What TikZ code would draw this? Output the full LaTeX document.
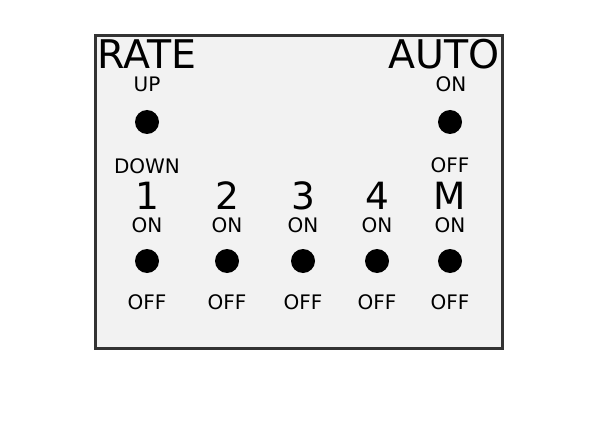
\documentclass[tikz,border=0pt]{standalone}
\usepackage{fontspec}
\setmainfont{DejaVu Sans}
\usepackage{tikz}
\usetikzlibrary{positioning}
\definecolor{panelfill}{HTML}{F2F2F2}
\definecolor{paneledge}{HTML}{333333}
\tikzset{%
  every switch/.style={
    circle,
    fill=black,
    inner sep=0pt,
    minimum size=24pt
  },
  big label/.style={
    inner sep=0pt,
    anchor=base,
    font=\fontsize{39.5}{40}\selectfont
  },
  digit label/.style={
    inner sep=0pt,
    anchor=base,
    font=\fontsize{37.5}{40}\selectfont
  },
  small label/.style={
    inner sep=0pt,
    anchor=base,
    font=\fontsize{20}{22}\selectfont
  },
}
\begin{document}
\begin{tikzpicture}[x=1pt, y=-1pt]

\useasboundingbox (0,0) rectangle (612,422);
\draw [fill=panelfill, draw=paneledge, line width=3.5pt] (95.5,35.5) rectangle (502.5,348.5);

% top row: rate and auto
\node [big label, anchor=base west] (rate) at (97,69) {RATE};
\node [big label, anchor=base east] (auto) at (500,69) {AUTO};

\node [small label] (rate-up) at (147,92) {UP};
\node [every switch/.try] (rate-sw) at (147,122) {};
\node [small label] (rate-down) at (147,173) {DOWN};

\node [small label] (auto-on) at (451,92) {ON};
\node [every switch/.try] (auto-sw) at (450,122) {};
\node [small label] (auto-off) at (450,172) {OFF};

% bottom row: channels
\foreach \m/\x in {1/147,2/227,3/303,4/377,M/450}
  {
  \node [digit label] (chan-\m) at (\x,209.5) {\m};
  \node [small label] (chan-\m-on) at (\x,232) {ON};
  \node [every switch/.try] (chan-\m-sw) at (\x,261) {};
  \node [small label] (chan-\m-off) at (\x,309) {OFF};
  }

\end{tikzpicture}
\end{document}
